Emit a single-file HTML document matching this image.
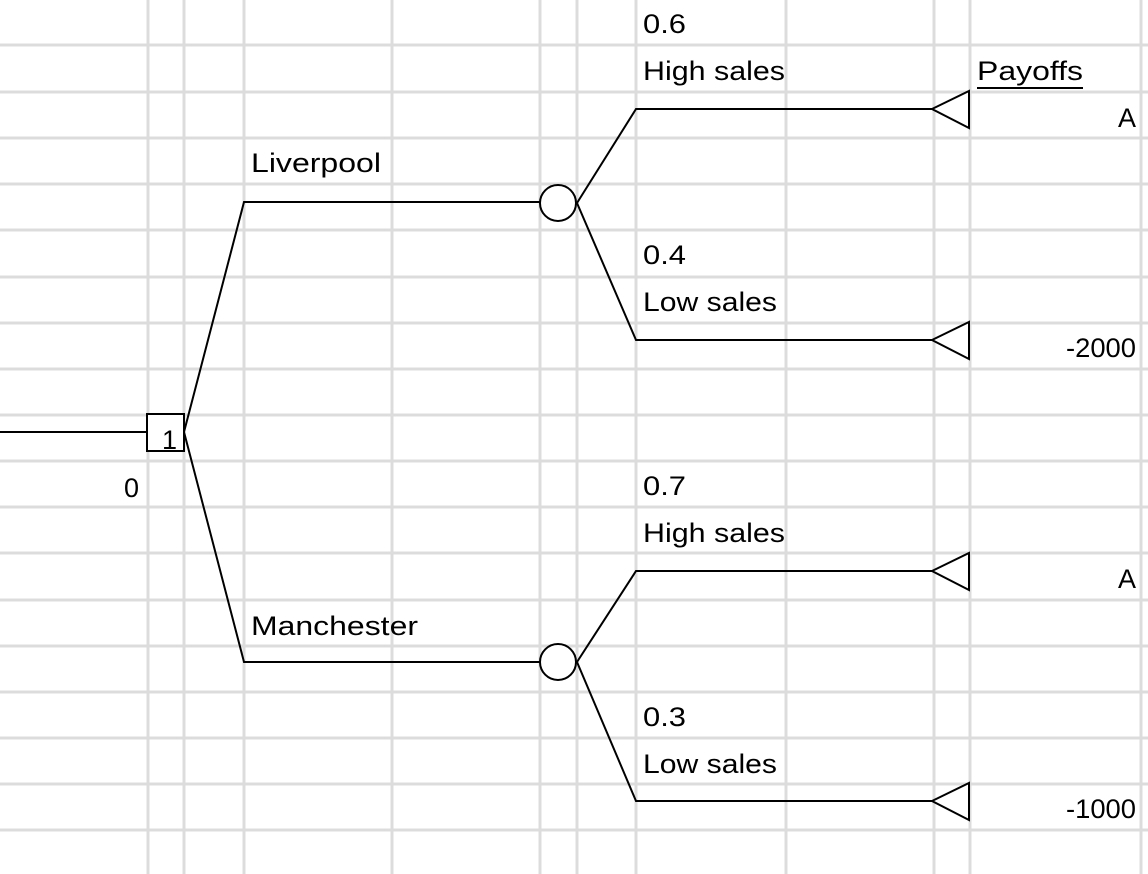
<!DOCTYPE html>
<html><head><style>
html,body{margin:0;padding:0;background:#fff;}
svg{display:block;}
text{font-family:"Liberation Sans",sans-serif;font-size:27px;fill:#000;}
</style></head><body>
<svg width="1148" height="874" viewBox="0 0 1148 874" xmlns="http://www.w3.org/2000/svg">
<g stroke="#dcdcdc" stroke-width="3">
<line x1="148" y1="0" x2="148" y2="874"/><line x1="184" y1="0" x2="184" y2="874"/>
<line x1="244" y1="0" x2="244" y2="874"/><line x1="392" y1="0" x2="392" y2="874"/>
<line x1="540" y1="0" x2="540" y2="874"/><line x1="577" y1="0" x2="577" y2="874"/>
<line x1="636" y1="0" x2="636" y2="874"/><line x1="786" y1="0" x2="786" y2="874"/>
<line x1="934" y1="0" x2="934" y2="874"/><line x1="970" y1="0" x2="970" y2="874"/>
<line x1="1141" y1="0" x2="1141" y2="874"/>
<line x1="0" y1="45" x2="1148" y2="45"/><line x1="0" y1="92" x2="1148" y2="92"/>
<line x1="0" y1="138" x2="1148" y2="138"/><line x1="0" y1="184" x2="1148" y2="184"/>
<line x1="0" y1="230" x2="1148" y2="230"/><line x1="0" y1="277" x2="1148" y2="277"/>
<line x1="0" y1="323" x2="1148" y2="323"/><line x1="0" y1="369" x2="1148" y2="369"/>
<line x1="0" y1="415" x2="1148" y2="415"/><line x1="0" y1="461" x2="1148" y2="461"/>
<line x1="0" y1="507" x2="1148" y2="507"/><line x1="0" y1="553" x2="1148" y2="553"/>
<line x1="0" y1="600" x2="1148" y2="600"/><line x1="0" y1="646" x2="1148" y2="646"/>
<line x1="0" y1="692" x2="1148" y2="692"/><line x1="0" y1="738" x2="1148" y2="738"/>
<line x1="0" y1="784" x2="1148" y2="784"/><line x1="0" y1="830" x2="1148" y2="830"/>
</g>
<g stroke="#000" stroke-width="2" fill="none">
<line x1="0" y1="432" x2="147" y2="432"/>
<rect x="147" y="414" width="37" height="37" fill="#fff"/>
<polyline points="184,432 244,202 540,202"/>
<polyline points="184,432 244,662 540,662"/>
<polyline points="577,203 636,109 932,109"/>
<polyline points="577,203 636,340 932,340"/>
<polyline points="577,662 636,571 932,571"/>
<polyline points="577,662 636,801 932,801"/>
<circle cx="558" cy="203" r="18" fill="#fff"/>
<circle cx="558" cy="662" r="18" fill="#fff"/>
<polygon points="932,109 969,91 969,128" fill="#fff"/>
<polygon points="932,340 969,322 969,359" fill="#fff"/>
<polygon points="932,571 969,553 969,590" fill="#fff"/>
<polygon points="932,801 969,783 969,820" fill="#fff"/>
<line x1="977" y1="88" x2="1083" y2="88"/>
</g>
<text x="162" y="449">1</text>
<text x="124" y="497">0</text>
<text x="251" y="172" textLength="130" lengthAdjust="spacingAndGlyphs">Liverpool</text>
<text x="251" y="635" textLength="167" lengthAdjust="spacingAndGlyphs">Manchester</text>
<text x="643" y="33" textLength="43" lengthAdjust="spacingAndGlyphs">0.6</text><text x="643" y="80" textLength="142" lengthAdjust="spacingAndGlyphs">High sales</text>
<text x="643" y="264" textLength="43" lengthAdjust="spacingAndGlyphs">0.4</text><text x="643" y="311" textLength="134" lengthAdjust="spacingAndGlyphs">Low sales</text>
<text x="643" y="495" textLength="43" lengthAdjust="spacingAndGlyphs">0.7</text><text x="643" y="542" textLength="142" lengthAdjust="spacingAndGlyphs">High sales</text>
<text x="643" y="726" textLength="43" lengthAdjust="spacingAndGlyphs">0.3</text><text x="643" y="773" textLength="134" lengthAdjust="spacingAndGlyphs">Low sales</text>
<text x="977" y="80" textLength="106" lengthAdjust="spacingAndGlyphs">Payoffs</text>
<text x="1136" y="127" text-anchor="end">A</text>
<text x="1136" y="357" text-anchor="end" textLength="70" lengthAdjust="spacingAndGlyphs">-2000</text>
<text x="1136" y="588" text-anchor="end">A</text>
<text x="1136" y="818" text-anchor="end" textLength="70" lengthAdjust="spacingAndGlyphs">-1000</text>
</svg>
</body></html>
